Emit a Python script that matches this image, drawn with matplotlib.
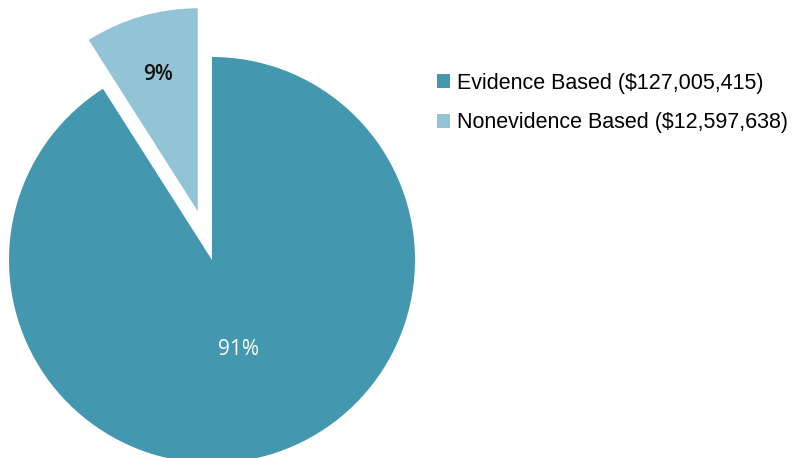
import matplotlib.pyplot as plt
from matplotlib.patches import Patch

# Funding split
categories = ['Evidence Based', 'Nonevidence Based']
amounts = [127005415, 12597638]
pct_labels = ['91%', '9%']
colors = ['#4398B0', '#93C4D5']

W, H = 796, 458
CX, CY, R = 212, 260, 203   # pie centre / radius in pixels

fig = plt.figure(figsize=(W / 100, H / 100), dpi=100)
ax = fig.add_axes([0, 0, 1, 1])

total = sum(amounts)
start = 90 + 360 * amounts[1] / total
wedges, texts, autotexts = ax.pie(
    amounts, colors=colors, startangle=start, counterclock=True,
    explode=[0, 0.25], autopct='%1.0f%%', pctdistance=0.46,
    wedgeprops=dict(linewidth=0))

# label styling
for t, lab in zip(autotexts, pct_labels):
    t.set_text(lab)
    t.set_fontsize(15)
    t.set_family(['Open Sans', 'DejaVu Sans'])
autotexts[0].set_color('white')
autotexts[1].set_color('#111111')
autotexts[1].set_fontweight('semibold')
# push the small-slice label further out along its own radius
x, y = autotexts[1].get_position()
cx, cy = wedges[1].center
autotexts[1].set_position((cx + (x - cx) * 0.70 / 0.46, cy + (y - cy) * 0.70 / 0.46))

ax.set_aspect('equal')
ax.set_xlim(-CX / R, (W - CX) / R)
ax.set_ylim(-(H - CY) / R, CY / R)
ax.axis('off')

handles = [Patch(facecolor=c, edgecolor='none') for c in colors]
labels = [f'{c} (${a:,})' for c, a in zip(categories, amounts)]
fig.legend(handles, labels, loc='upper left', bbox_to_anchor=(437 / W, 1 - 73 / H),
           frameon=False, handlelength=0.62, handleheight=0.62, handletextpad=0.3,
           labelspacing=0.85, borderaxespad=0, borderpad=0,
           prop={'family': ['Liberation Sans Narrow', 'Liberation Sans'], 'size': 15.5})

fig.savefig('out.png', dpi=100)
